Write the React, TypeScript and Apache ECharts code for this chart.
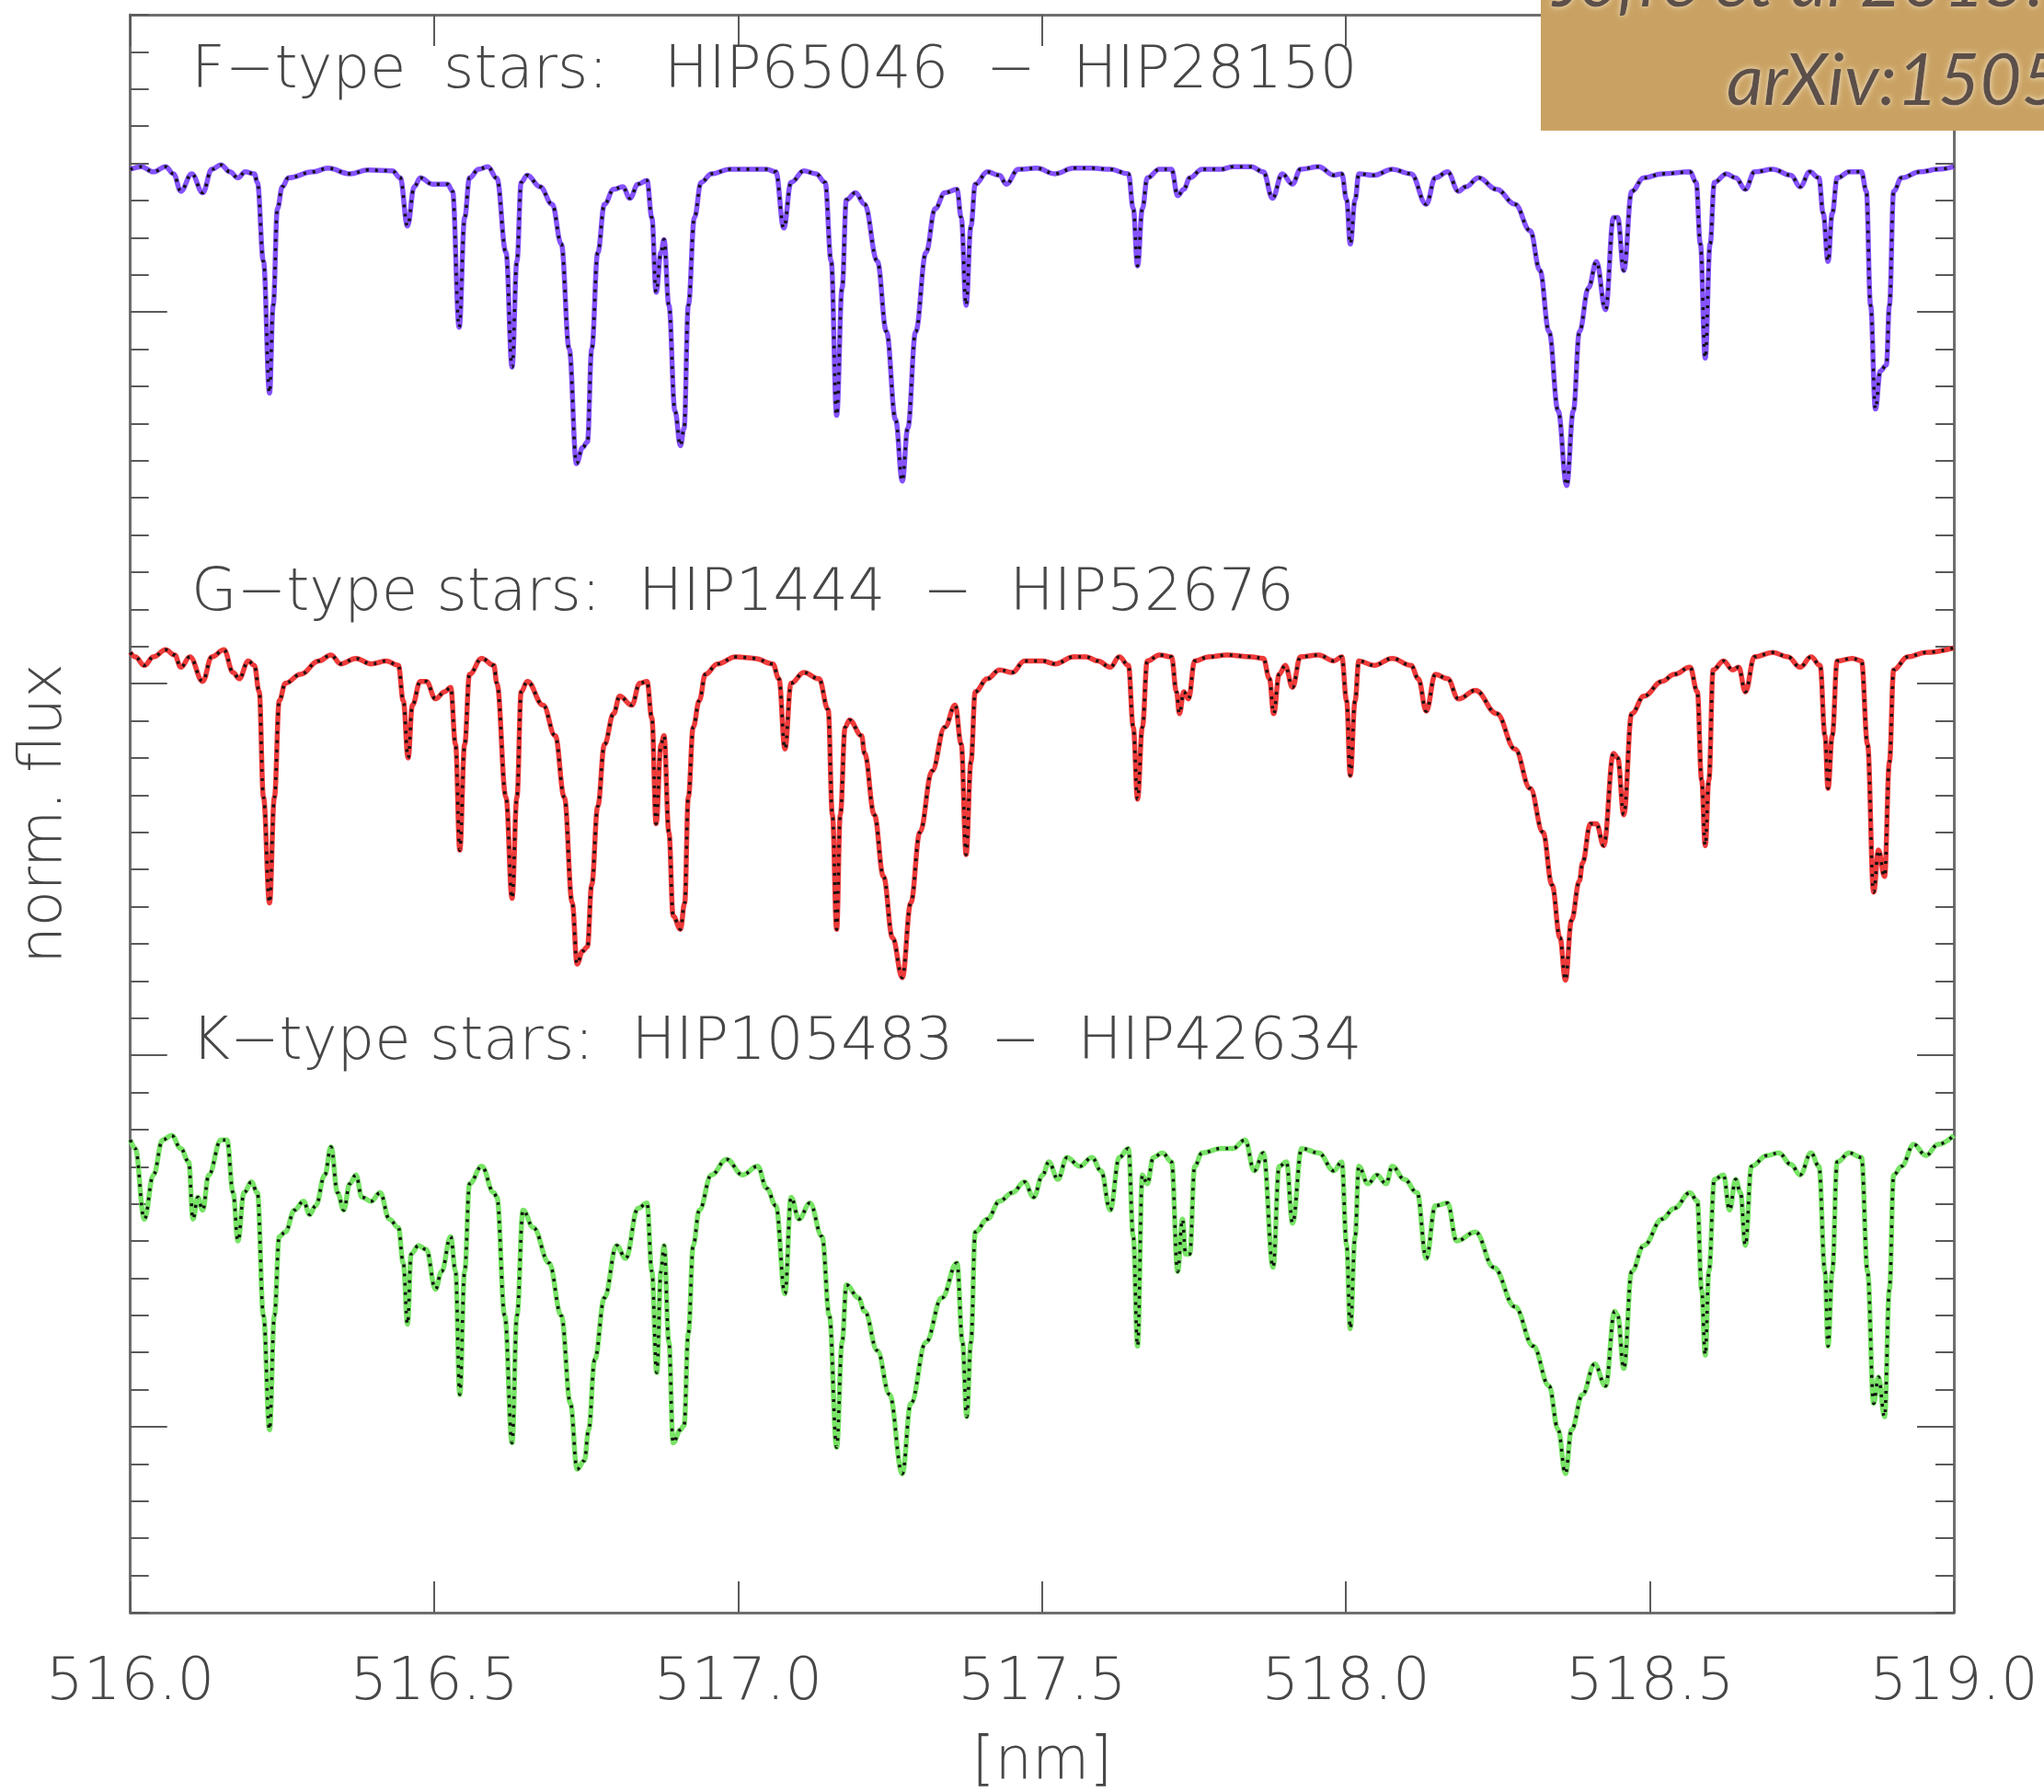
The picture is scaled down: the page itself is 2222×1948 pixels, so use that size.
import { useEffect, useRef } from "react";
import * as echarts from "echarts";

type Pt = [number, number];

// Wavelength axis [nm]
const WAVE_MIN = 516.0;
const WAVE_MAX = 519.0;
const WAVE_STEP = 0.5;

// Flux axis (normalized flux units, spectra stacked with offsets)
const FLUX_MIN = -0.5;
const FLUX_MAX = 3.8;
const FLUX_MINOR_STEP = 0.1;
const FLUX_MAJOR_TICKS = [0, 1, 2, 3];

// Vertical offsets applied to each normalized spectrum
const F_OFFSET = 2.4;
const G_OFFSET = 1.1;
const K_OFFSET = -0.2;

const F_LABEL = "F\u2212type  stars:   HIP65046  \u2212  HIP28150";
const G_LABEL = "G\u2212type stars:  HIP1444  \u2212  HIP52676";
const K_LABEL = "K\u2212type stars:  HIP105483  \u2212  HIP42634";

const F_STARS = ["HIP65046", "HIP28150"];
const G_STARS = ["HIP1444", "HIP52676"];
const K_STARS = ["HIP105483", "HIP42634"];

// [wavelength nm, normalized flux]
const fTypeFlux: Pt[] = [
  [516.0, 0.984], [516.018, 0.991], [516.038, 0.977], [516.058, 0.991], [516.071, 0.972], [516.083, 0.925],
  [516.101, 0.972], [516.119, 0.921], [516.134, 0.984], [516.149, 0.996], [516.164, 0.977], [516.177, 0.961],
  [516.189, 0.977], [516.204, 0.972], [516.209, 0.949], [516.219, 0.736], [516.229, 0.382], [516.235, 0.618],
  [516.242, 0.878], [516.25, 0.937], [516.26, 0.961], [516.3, 0.977], [516.325, 0.987], [516.361, 0.972],
  [516.391, 0.982], [516.431, 0.98], [516.444, 0.961], [516.456, 0.831], [516.467, 0.937], [516.477, 0.961],
  [516.497, 0.944], [516.522, 0.944], [516.53, 0.925], [516.541, 0.559], [516.55, 0.854], [516.558, 0.961],
  [516.573, 0.984], [516.588, 0.991], [516.603, 0.96], [516.618, 0.76], [516.628, 0.452], [516.636, 0.736],
  [516.643, 0.949], [516.653, 0.968], [516.674, 0.937], [516.694, 0.89], [516.709, 0.783], [516.722, 0.5],
  [516.734, 0.192], [516.744, 0.235], [516.752, 0.251], [516.759, 0.5], [516.769, 0.76], [516.78, 0.89],
  [516.795, 0.93], [516.81, 0.937], [516.822, 0.906], [516.835, 0.944], [516.85, 0.954], [516.858, 0.854],
  [516.865, 0.653], [516.873, 0.76], [516.878, 0.795], [516.886, 0.618], [516.896, 0.334], [516.905, 0.24],
  [516.911, 0.287], [516.918, 0.618], [516.928, 0.854], [516.939, 0.949], [516.956, 0.972], [516.986, 0.984],
  [517.017, 0.984], [517.047, 0.984], [517.062, 0.977], [517.075, 0.826], [517.087, 0.949], [517.108, 0.98],
  [517.128, 0.972], [517.143, 0.949], [517.153, 0.736], [517.162, 0.322], [517.171, 0.665], [517.178, 0.902],
  [517.193, 0.921], [517.208, 0.89], [517.229, 0.736], [517.244, 0.547], [517.259, 0.31], [517.27, 0.145],
  [517.279, 0.287], [517.292, 0.547], [517.309, 0.76], [517.324, 0.878], [517.34, 0.921], [517.36, 0.93],
  [517.367, 0.854], [517.375, 0.618], [517.383, 0.831], [517.39, 0.944], [517.41, 0.977], [517.43, 0.968],
  [517.441, 0.944], [517.461, 0.984], [517.491, 0.987], [517.521, 0.972], [517.552, 0.987], [517.582, 0.987],
  [517.612, 0.984], [517.642, 0.972], [517.65, 0.878], [517.657, 0.724], [517.665, 0.878], [517.673, 0.961],
  [517.693, 0.984], [517.713, 0.984], [517.723, 0.913], [517.733, 0.93], [517.743, 0.961], [517.763, 0.984],
  [517.794, 0.984], [517.814, 0.991], [517.844, 0.991], [517.864, 0.977], [517.879, 0.906], [517.895, 0.972],
  [517.912, 0.944], [517.925, 0.984], [517.955, 0.991], [517.98, 0.968], [517.993, 0.972], [518.001, 0.902],
  [518.007, 0.783], [518.015, 0.902], [518.021, 0.972], [518.046, 0.968], [518.076, 0.984], [518.107, 0.972],
  [518.132, 0.89], [518.147, 0.961], [518.167, 0.977], [518.185, 0.925], [518.197, 0.937], [518.218, 0.961],
  [518.248, 0.93], [518.278, 0.89], [518.303, 0.819], [518.319, 0.712], [518.334, 0.547], [518.349, 0.334],
  [518.363, 0.133], [518.374, 0.334], [518.384, 0.547], [518.399, 0.665], [518.412, 0.736], [518.427, 0.606],
  [518.44, 0.854], [518.447, 0.854], [518.457, 0.712], [518.47, 0.925], [518.49, 0.961], [518.52, 0.972],
  [518.566, 0.977], [518.576, 0.949], [518.583, 0.783], [518.591, 0.476], [518.599, 0.783], [518.606, 0.949],
  [518.626, 0.972], [518.641, 0.961], [518.657, 0.93], [518.672, 0.977], [518.702, 0.984], [518.732, 0.968],
  [518.747, 0.937], [518.763, 0.977], [518.778, 0.961], [518.785, 0.866], [518.793, 0.736], [518.8, 0.866],
  [518.808, 0.961], [518.828, 0.977], [518.848, 0.977], [518.856, 0.925], [518.863, 0.618], [518.871, 0.339],
  [518.879, 0.441], [518.889, 0.457], [518.894, 0.618], [518.901, 0.925], [518.914, 0.961], [518.944, 0.977],
  [518.974, 0.984], [519.0, 0.991],
];

const gTypeFlux: Pt[] = [
  [516.0, 0.984], [516.008, 0.972], [516.023, 0.949], [516.038, 0.972], [516.058, 0.991], [516.073, 0.977],
  [516.083, 0.944], [516.098, 0.972], [516.119, 0.906], [516.134, 0.972], [516.154, 0.991], [516.169, 0.93],
  [516.179, 0.913], [516.194, 0.961], [516.204, 0.949], [516.212, 0.878], [516.219, 0.594], [516.229, 0.31],
  [516.237, 0.594], [516.245, 0.854], [516.255, 0.901], [516.28, 0.925], [516.31, 0.961], [516.33, 0.977],
  [516.346, 0.953], [516.371, 0.968], [516.396, 0.953], [516.421, 0.961], [516.441, 0.949], [516.449, 0.854],
  [516.457, 0.7], [516.464, 0.842], [516.477, 0.906], [516.487, 0.906], [516.502, 0.859], [516.517, 0.878],
  [516.527, 0.89], [516.535, 0.736], [516.542, 0.452], [516.55, 0.736], [516.558, 0.925], [516.578, 0.968],
  [516.598, 0.949], [516.603, 0.901], [516.618, 0.594], [516.628, 0.322], [516.636, 0.594], [516.643, 0.878],
  [516.653, 0.906], [516.679, 0.842], [516.699, 0.76], [516.714, 0.594], [516.727, 0.31], [516.735, 0.145],
  [516.744, 0.18], [516.752, 0.192], [516.759, 0.358], [516.769, 0.57], [516.78, 0.736], [516.795, 0.819],
  [516.805, 0.866], [516.825, 0.842], [516.838, 0.901], [516.85, 0.906], [516.858, 0.807], [516.865, 0.523],
  [516.873, 0.736], [516.878, 0.76], [516.886, 0.5], [516.893, 0.275], [516.905, 0.239], [516.912, 0.31],
  [516.918, 0.594], [516.926, 0.783], [516.936, 0.854], [516.946, 0.925], [516.966, 0.953], [516.996, 0.972],
  [517.027, 0.968], [517.057, 0.953], [517.067, 0.913], [517.077, 0.724], [517.087, 0.901], [517.108, 0.93],
  [517.133, 0.913], [517.148, 0.83], [517.155, 0.547], [517.162, 0.239], [517.168, 0.547], [517.176, 0.783],
  [517.183, 0.802], [517.203, 0.76], [517.208, 0.712], [517.224, 0.547], [517.239, 0.381], [517.254, 0.216],
  [517.27, 0.109], [517.284, 0.31], [517.299, 0.5], [517.319, 0.665], [517.34, 0.783], [517.357, 0.842],
  [517.367, 0.736], [517.375, 0.44], [517.383, 0.689], [517.39, 0.878], [517.41, 0.913], [517.43, 0.937],
  [517.451, 0.93], [517.471, 0.961], [517.501, 0.961], [517.521, 0.953], [517.552, 0.972], [517.572, 0.972],
  [517.592, 0.961], [517.612, 0.944], [517.627, 0.972], [517.642, 0.949], [517.65, 0.783], [517.657, 0.589],
  [517.665, 0.783], [517.673, 0.961], [517.693, 0.977], [517.713, 0.972], [517.721, 0.878], [517.726, 0.819],
  [517.733, 0.878], [517.741, 0.859], [517.751, 0.961], [517.774, 0.972], [517.804, 0.977], [517.844, 0.972],
  [517.864, 0.968], [517.874, 0.913], [517.881, 0.819], [517.89, 0.925], [517.9, 0.949], [517.912, 0.89],
  [517.925, 0.972], [517.955, 0.977], [517.98, 0.961], [517.993, 0.972], [518.001, 0.854], [518.007, 0.653],
  [518.015, 0.854], [518.021, 0.961], [518.046, 0.949], [518.076, 0.968], [518.107, 0.949], [518.119, 0.913],
  [518.132, 0.826], [518.147, 0.925], [518.167, 0.913], [518.185, 0.859], [518.213, 0.882], [518.248, 0.819],
  [518.278, 0.724], [518.303, 0.618], [518.324, 0.5], [518.339, 0.358], [518.352, 0.216], [518.361, 0.102],
  [518.371, 0.263], [518.384, 0.369], [518.389, 0.417], [518.402, 0.523], [518.412, 0.523], [518.424, 0.464],
  [518.44, 0.712], [518.447, 0.7], [518.457, 0.547], [518.47, 0.819], [518.49, 0.866], [518.52, 0.906],
  [518.54, 0.925], [518.566, 0.944], [518.578, 0.878], [518.585, 0.641], [518.591, 0.464], [518.597, 0.641],
  [518.604, 0.937], [518.621, 0.961], [518.636, 0.937], [518.646, 0.944], [518.657, 0.878], [518.672, 0.972],
  [518.702, 0.984], [518.727, 0.972], [518.747, 0.944], [518.765, 0.972], [518.78, 0.949], [518.788, 0.76],
  [518.793, 0.618], [518.8, 0.76], [518.808, 0.961], [518.833, 0.968], [518.848, 0.961], [518.858, 0.736],
  [518.868, 0.339], [518.876, 0.452], [518.886, 0.381], [518.894, 0.689], [518.901, 0.937], [518.924, 0.972],
  [518.954, 0.984], [519.0, 0.996],
];

const kTypeFlux: Pt[] = [
  [516.0, 0.972], [516.008, 0.949], [516.023, 0.759], [516.038, 0.878], [516.053, 0.972], [516.068, 0.984],
  [516.083, 0.949], [516.096, 0.913], [516.103, 0.759], [516.111, 0.818], [516.119, 0.783], [516.129, 0.878],
  [516.149, 0.972], [516.159, 0.972], [516.169, 0.83], [516.177, 0.7], [516.187, 0.83], [516.199, 0.859],
  [516.209, 0.83], [516.219, 0.499], [516.229, 0.192], [516.237, 0.499], [516.245, 0.712], [516.255, 0.724],
  [516.27, 0.783], [516.285, 0.807], [516.295, 0.771], [516.305, 0.795], [516.32, 0.878], [516.33, 0.953],
  [516.341, 0.83], [516.351, 0.783], [516.361, 0.854], [516.371, 0.878], [516.381, 0.818], [516.396, 0.807],
  [516.411, 0.83], [516.426, 0.759], [516.441, 0.736], [516.449, 0.641], [516.456, 0.476], [516.462, 0.665],
  [516.474, 0.688], [516.487, 0.677], [516.502, 0.57], [516.512, 0.618], [516.527, 0.712], [516.535, 0.618],
  [516.542, 0.287], [516.55, 0.618], [516.558, 0.854], [516.578, 0.901], [516.598, 0.83], [516.603, 0.818],
  [516.616, 0.499], [516.628, 0.157], [516.636, 0.499], [516.646, 0.783], [516.663, 0.736], [516.689, 0.641],
  [516.709, 0.499], [516.724, 0.263], [516.735, 0.086], [516.747, 0.109], [516.754, 0.192], [516.764, 0.381],
  [516.78, 0.547], [516.8, 0.688], [516.815, 0.653], [516.835, 0.788], [516.85, 0.802], [516.858, 0.618],
  [516.866, 0.346], [516.873, 0.618], [516.878, 0.688], [516.886, 0.428], [516.893, 0.157], [516.905, 0.192],
  [516.911, 0.204], [516.918, 0.452], [516.926, 0.688], [516.936, 0.783], [516.956, 0.878], [516.981, 0.92],
  [517.007, 0.878], [517.032, 0.901], [517.047, 0.842], [517.062, 0.795], [517.077, 0.558], [517.087, 0.818],
  [517.1, 0.759], [517.118, 0.802], [517.138, 0.712], [517.15, 0.499], [517.162, 0.145], [517.171, 0.428],
  [517.178, 0.582], [517.198, 0.547], [517.208, 0.511], [517.229, 0.405], [517.249, 0.287], [517.27, 0.074],
  [517.284, 0.263], [517.309, 0.428], [517.335, 0.547], [517.36, 0.641], [517.369, 0.428], [517.376, 0.227],
  [517.383, 0.428], [517.39, 0.724], [517.41, 0.759], [517.43, 0.807], [517.451, 0.83], [517.471, 0.859],
  [517.486, 0.818], [517.501, 0.878], [517.511, 0.913], [517.526, 0.866], [517.541, 0.925], [517.562, 0.901],
  [517.582, 0.925], [517.597, 0.889], [517.612, 0.783], [517.627, 0.925], [517.642, 0.949], [517.65, 0.712],
  [517.657, 0.417], [517.665, 0.878], [517.673, 0.854], [517.683, 0.925], [517.698, 0.937], [517.713, 0.913],
  [517.723, 0.618], [517.731, 0.759], [517.736, 0.665], [517.743, 0.665], [517.751, 0.901], [517.763, 0.937],
  [517.794, 0.949], [517.814, 0.949], [517.834, 0.972], [517.849, 0.889], [517.864, 0.937], [517.88, 0.629],
  [517.89, 0.901], [517.902, 0.913], [517.912, 0.748], [517.927, 0.949], [517.955, 0.937], [517.98, 0.889],
  [517.993, 0.913], [518.001, 0.688], [518.007, 0.464], [518.015, 0.712], [518.021, 0.901], [518.036, 0.854],
  [518.051, 0.878], [518.066, 0.854], [518.076, 0.901], [518.096, 0.866], [518.117, 0.83], [518.132, 0.653],
  [518.147, 0.795], [518.167, 0.802], [518.182, 0.7], [518.213, 0.724], [518.243, 0.629], [518.278, 0.523],
  [518.308, 0.417], [518.334, 0.31], [518.349, 0.192], [518.361, 0.074], [518.371, 0.192], [518.389, 0.287],
  [518.409, 0.369], [518.427, 0.31], [518.442, 0.511], [518.447, 0.499], [518.457, 0.357], [518.47, 0.618],
  [518.49, 0.688], [518.52, 0.759], [518.54, 0.788], [518.566, 0.83], [518.578, 0.807], [518.585, 0.57],
  [518.591, 0.393], [518.597, 0.618], [518.606, 0.866], [518.621, 0.878], [518.631, 0.783], [518.641, 0.866],
  [518.649, 0.83], [518.657, 0.688], [518.667, 0.901], [518.692, 0.93], [518.712, 0.937], [518.732, 0.906],
  [518.747, 0.878], [518.765, 0.937], [518.778, 0.901], [518.788, 0.618], [518.793, 0.417], [518.8, 0.618],
  [518.808, 0.913], [518.828, 0.937], [518.848, 0.925], [518.858, 0.618], [518.868, 0.263], [518.876, 0.334],
  [518.886, 0.227], [518.894, 0.57], [518.901, 0.878], [518.914, 0.901], [518.934, 0.96], [518.954, 0.93],
  [518.974, 0.96], [519.0, 0.984],
];

const FONT = "DejaVu Sans";
const FRAME_COLOR = "#6e6e6e";
const TICK_COLOR = "#5a5a5a";
const TEXT_COLOR = "#474747";

const panels = [
  { data: fTypeFlux, offset: F_OFFSET, stars: F_STARS, color: "#8552ff", label: F_LABEL },
  { data: gTypeFlux, offset: G_OFFSET, stars: G_STARS, color: "#ef3a3a", label: G_LABEL },
  { data: kTypeFlux, offset: K_OFFSET, stars: K_STARS, color: "#78e466", label: K_LABEL },
];

const labelCenters = [73, 641, 1129];

function buildOption(): echarts.EChartsOption {
  const series: any[] = [];
  panels.forEach((p) => {
    const shifted = p.data.map(([w, f]) => [w, +(f + p.offset).toFixed(4)]);
    // first star of the pair: coloured solid line
    series.push({
      name: p.stars[0],
      type: "line",
      data: shifted,
      showSymbol: false,
      smooth: 0.4,
      smoothMonotone: "x",
      lineStyle: { color: p.color, width: 5.5 },
      z: 2,
    });
    // second star of the pair: black dotted line on top
    series.push({
      name: p.stars[1],
      type: "line",
      data: shifted,
      showSymbol: false,
      smooth: 0.4,
      smoothMonotone: "x",
      lineStyle: { color: "#111111", width: 3.5, type: [3, 7] },
      z: 3,
    });
  });

  const frameLine = { show: true, lineStyle: { color: FRAME_COLOR, width: 3 } };

  const xBase = {
    type: "value",
    min: WAVE_MIN,
    max: WAVE_MAX,
    interval: WAVE_STEP,
    splitLine: { show: false },
    axisLine: { ...frameLine, onZero: false },
    axisTick: { show: true, inside: true, length: 34, lineStyle: { color: TICK_COLOR, width: 2 } },
  };

  const yMinor = (position: "left" | "right", withLine: boolean, name?: string) => ({
    type: "value",
    position,
    min: FLUX_MIN,
    max: FLUX_MAX,
    interval: FLUX_MINOR_STEP,
    splitLine: { show: false },
    axisLabel: { show: false },
    axisLine: withLine ? { ...frameLine, onZero: false } : { show: false },
    axisTick: { show: true, inside: true, length: 20, lineStyle: { color: TICK_COLOR, width: 2 } },
    ...(name
      ? {
          name,
          nameLocation: "middle",
          nameGap: 66,
          nameTextStyle: { fontFamily: FONT, fontSize: 64, fontWeight: 200, color: TEXT_COLOR },
        }
      : {}),
  });

  const yMajor = (position: "left" | "right") => ({
    type: "value",
    position,
    min: FLUX_MIN,
    max: FLUX_MAX,
    splitLine: { show: false },
    axisLabel: { show: false },
    axisLine: { show: false },
    axisTick: {
      show: true,
      inside: true,
      length: 40,
      customValues: FLUX_MAJOR_TICKS,
      lineStyle: { color: TICK_COLOR, width: 2 },
    },
  });

  const boxText = {
    font: "italic 78px Lato",
    fill: "#5b5048",
    align: "left",
    textShadowColor: "rgba(255,240,215,0.9)",
    textShadowBlur: 6,
  };

  const graphic: any[] = [
    {
      type: "rect",
      shape: { x: 1675, y: -10, width: 600, height: 152 },
      style: { fill: "#c9a263" },
      z: 100,
    },
    {
      type: "text",
      x: 1688,
      y: 16,
      z: 101,
      style: { ...boxText, text: "Jofré et al 2015:", verticalAlign: "bottom" },
    },
    {
      type: "text",
      x: 1877,
      y: 84,
      z: 101,
      style: { ...boxText, text: "arXiv:1505", verticalAlign: "middle" },
    },
    ...panels.map((p, i) => ({
      type: "text",
      x: 208,
      y: labelCenters[i],
      z: 50,
      style: {
        text: p.label,
        fontFamily: FONT,
        fontSize: 64,
        fontWeight: 200,
        fill: TEXT_COLOR,
        align: "left",
        verticalAlign: "middle",
      },
    })),
  ];

  return {
    animation: false,
    backgroundColor: "#ffffff",
    textStyle: { fontFamily: FONT },
    grid: { left: 141.7, right: 98, top: 16, bottom: 192.5, containLabel: false },
    xAxis: [
      {
        ...xBase,
        position: "bottom",
        name: "[nm]",
        nameLocation: "middle",
        nameGap: 126,
        nameTextStyle: { fontFamily: FONT, fontSize: 64, fontWeight: 200, color: TEXT_COLOR },
        axisLabel: {
          show: true,
          margin: 40,
          showMinLabel: true,
          showMaxLabel: true,
          fontFamily: FONT,
          fontSize: 64,
          fontWeight: 200,
          color: TEXT_COLOR,
          formatter: (v: number) => v.toFixed(1),
        },
      },
      { ...xBase, position: "top", axisLabel: { show: false } },
    ] as any,
    yAxis: [
      yMinor("left", true, "norm. flux"),
      yMajor("left"),
      yMinor("right", true),
      yMajor("right"),
    ] as any,
    series,
    graphic,
  } as any;
}

export default function App() {
  const ref = useRef<HTMLDivElement | null>(null);
  useEffect(() => {
    if (!ref.current) return;
    const chart = echarts.init(ref.current, undefined, { renderer: "svg" });
    chart.setOption(buildOption());
    return () => chart.dispose();
  }, []);
  return (
    <div
      ref={ref}
      style={{ position: "fixed", left: 0, top: 0, width: 2222, height: 1948, background: "#fff" }}
    />
  );
}
